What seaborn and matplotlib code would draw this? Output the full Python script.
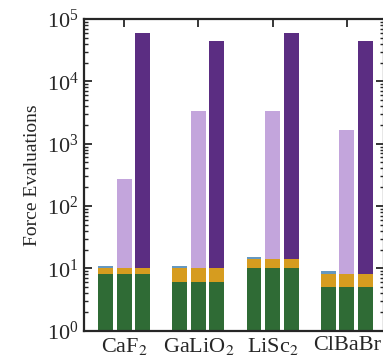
import numpy as np
import pandas as pd
import seaborn as sns
import matplotlib.pyplot as plt

systems = ["CaF$_2$", "GaLiO$_2$", "LiSc$_2$", "ClBaBr"]
bars = ["b1", "b2", "b3"]
green = [8, 6, 10, 5]
gold = [2, 4, 4, 3]
blue = [1, 1, 1, 1]
light_purple = [270, 3300, 3300, 1650]
dark_purple = [60000, 45000, 60000, 45000]

c_green = "#2f6b35"
c_gold = "#d69c1f"
c_blue = "#6598c0"
c_light = "#c3a5dc"
c_dark = "#5b2d82"

sns.set_style("ticks")
plt.rcParams["font.family"] = ["Liberation Serif", "DejaVu Serif"]
plt.rcParams["mathtext.fontset"] = "stix"

fig = plt.figure(figsize=(3.83, 3.58), dpi=100)
ax = fig.add_axes([0.2193, 0.0763, 0.7833, 0.8707])

def layer(values, palette):
    df = pd.DataFrame({"system": np.repeat(systems, 3), "bar": bars * len(systems), "value": values})
    sns.barplot(data=df, x="system", y="value", hue="bar", hue_order=bars, palette=palette,
                width=0.75, gap=0.2, saturation=1, errorbar=None, legend=False, ax=ax,
                linewidth=0, edgecolor="none")

# draw tallest layer first, then overlay the lower segments
tops = []
for i in range(len(systems)):
    tops += [green[i] + gold[i] + blue[i], light_purple[i], dark_purple[i]]
layer(tops, [c_blue, c_light, c_dark])

mid = []
for i in range(len(systems)):
    mid += [green[i] + gold[i]] * 3
layer(mid, [c_gold] * 3)

low = []
for i in range(len(systems)):
    low += [green[i]] * 3
layer(low, [c_green] * 3)

ax.set_yscale("log")
ax.set_ylim(1, 1e5)
ax.set_xlim(-0.54, 3.5)
ax.set_xlabel("")
ax.set_ylabel("Force Evaluations", fontsize=14)

ax.tick_params(axis="both", which="major", direction="in", top=True, right=True,
               length=6, width=1.3, labelsize=16, pad=4)
ax.tick_params(axis="y", which="minor", direction="in", right=True, length=3, width=1)
ax.tick_params(axis="x", which="minor", bottom=False, top=False)
for s in ax.spines.values():
    s.set_linewidth(1.6)

fig.savefig("out.png", dpi=100)
